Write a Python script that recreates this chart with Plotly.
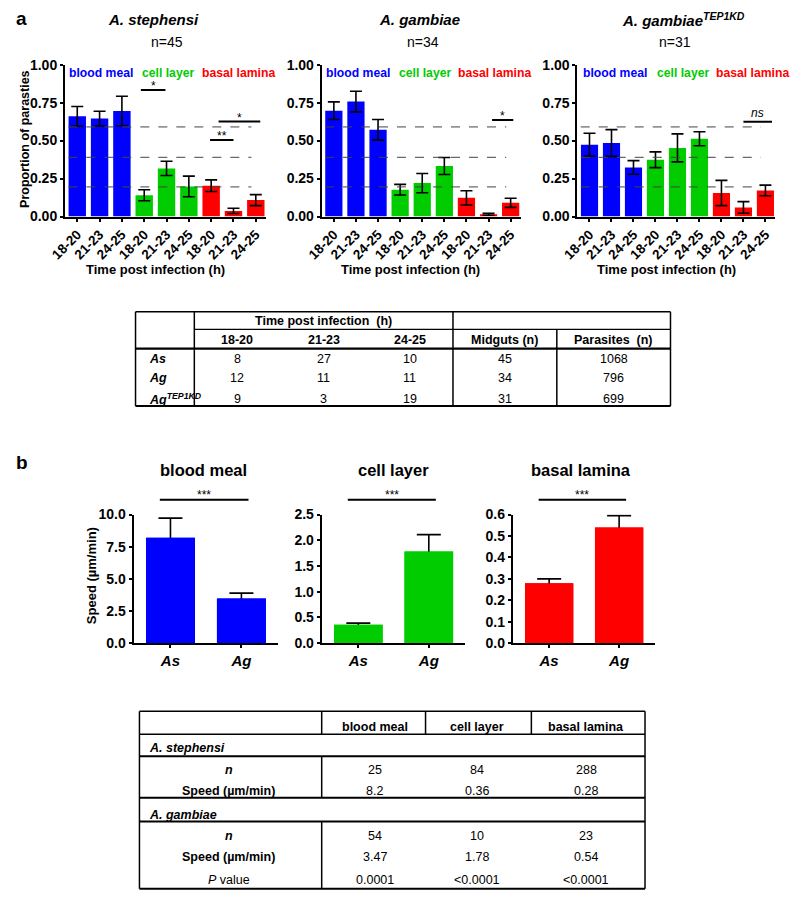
import plotly.graph_objects as go

W, H = 791, 899
FONT = "Liberation Sans, Arial, sans-serif"


def X(px):
    return px / W


def Y(py):
    return 1 - py / H


# ---------------- data ----------------
time_labels = ["18-20", "21-23", "24-25"]
stage_names = ["blood meal", "cell layer", "basal lamina"]
stage_colors = ["#0000FF", "#00CC00", "#FF0000"]

# panel a : proportion of parasites (blood meal x3, cell layer x3, basal lamina x3)
steph_prop = [0.66, 0.645, 0.695, 0.14, 0.317, 0.198, 0.203, 0.037, 0.108]
steph_err = [0.065, 0.048, 0.097, 0.036, 0.047, 0.068, 0.038, 0.017, 0.036]
gamb_prop = [0.697, 0.757, 0.571, 0.177, 0.22, 0.333, 0.123, 0.015, 0.09]
gamb_err = [0.058, 0.068, 0.068, 0.035, 0.063, 0.056, 0.047, 0.007, 0.03]
tep_prop = [0.473, 0.484, 0.323, 0.374, 0.452, 0.512, 0.155, 0.06, 0.172]
tep_err = [0.075, 0.088, 0.045, 0.052, 0.092, 0.046, 0.083, 0.038, 0.035]
ref_levels = [0.59, 0.39, 0.195]
species_titles = ["<i>A. stephensi</i>", "<i>A. gambiae</i>", "<i>A. gambiae<sup>TEP1KD</sup></i>"]
species_n = [45, 34, 31]
# significance brackets: (from bar, to bar, height, label)
steph_sig = [(2.85, 3.95, 0.834, "*"), (5.95, 7.0, 0.504, "**"), (6.33, 8.2, 0.625, "*")]
gamb_sig = [(7.16, 8.12, 0.636, "*")]
tep_sig = [(7.0, 8.3, 0.624, "<i>ns</i>")]

# panel b : speed (um/min)
species_short = ["As", "Ag"]
speed_as = [8.2, 0.36, 0.28]
speed_as_err = [1.52, 0.03, 0.02]
speed_ag = [3.47, 1.78, 0.54]
speed_ag_err = [0.42, 0.33, 0.055]
speed_ranges = [10, 2.5, 0.6]
speed_dticks = [2.5, 0.5, 0.1]
speed_sig = ["***", "***", "***"]

# table a
tab_a_rows = ["As", "Ag", "Ag<sup>TEP1KD</sup>"]
tab_a_counts = [[8, 27, 10], [12, 11, 11], [9, 3, 19]]
tab_a_midguts = [45, 34, 31]
tab_a_parasites = [1068, 796, 699]

# table b
tab_b_as_n = [25, 84, 288]
tab_b_as_speed = ["8.2", "0.36", "0.28"]
tab_b_ag_n = [54, 10, 23]
tab_b_ag_speed = ["3.47", "1.78", "0.54"]
tab_b_p = ["0.0001", "<0.0001", "<0.0001"]

fig = go.Figure()
annotations = []
shapes = []


def ann(text, px, py, size=13, bold=False, color="black", xanchor="center", yanchor="middle", angle=0):
    annotations.append(dict(
        text=text, x=X(px), y=Y(py), xref="paper", yref="paper", showarrow=False,
        xanchor=xanchor, yanchor=yanchor, textangle=angle,
        font=dict(family=FONT, size=size, color=color, weight="bold" if bold else "normal")))


def line(x0, y0, x1, y1, w=1.0, xref="paper", yref="paper", dash="solid", color="black"):
    shapes.append(dict(type="line", x0=x0, y0=y0, x1=x1, y1=y1, xref=xref, yref=yref,
                       line=dict(color=color, width=w, dash=dash)))


def hl(px0, px1, py, w=1.0):
    line(X(px0), Y(py), X(px1), Y(py), w)


def vl(px, py0, py1, w=1.0):
    line(X(px), Y(py0), X(px), Y(py1), w)


axis_common = dict(showline=True, linewidth=2, linecolor="black", ticks="outside", ticklen=3,
                   tickwidth=2, tickcolor="black", showgrid=False, zeroline=False,
                   tickfont=dict(family=FONT, size=14, color="black", weight="bold"))
layout_axes = {}

# ---------------- panel a ----------------
a_xdom = [(50, 255), (312, 515), (573, 775)]
a_ytop, a_ybot = 57.7, 212.3
a_data = [(steph_prop, steph_err, steph_sig), (gamb_prop, gamb_err, gamb_sig), (tep_prop, tep_err, tep_sig)]
bar_colors_a = [c for c in stage_colors for _ in time_labels]
xcats = list(range(len(bar_colors_a)))
a_title_x = [140, 412, 681]
a_n_x = [154, 415, 673]
a_xt_x = [142, 403, 664]
a_label_x = [(52, 127, 188), (314, 389, 449), (577, 652, 712)]

for i, (vals, errs, sig) in enumerate(a_data):
    k = i + 1
    xa = "x" if k == 1 else f"x{k}"
    ya = "y" if k == 1 else f"y{k}"
    fig.add_trace(go.Bar(
        x=xcats, y=vals, width=0.78, marker=dict(color=bar_colors_a, line=dict(width=0)),
        error_y=dict(type="data", array=errs, symmetric=True, color="black", thickness=1.6, width=6),
        xaxis=xa, yaxis=ya, showlegend=False))
    layout_axes["xaxis" if k == 1 else f"xaxis{k}"] = dict(
        axis_common, domain=[X(a_xdom[i][0]), X(a_xdom[i][1])], range=[-0.55, 8.45],
        tickvals=xcats, ticktext=time_labels * 3, tickangle=-45, anchor=ya,
        tickfont=dict(family=FONT, size=13.5, color="black", weight="bold"))
    layout_axes["yaxis" if k == 1 else f"yaxis{k}"] = dict(
        axis_common, domain=[Y(a_ybot), Y(a_ytop)], range=[0, 1], tickvals=[0, 0.25, 0.5, 0.75, 1.0],
        tickformat=".2f", anchor=xa)
    for lv in ref_levels:
        line(-0.4, lv, 7.8, lv, w=1, xref=xa, yref=ya, dash="dash", color="#444444")
    for (s0, s1, sy, lab) in sig:
        line(s0, sy, s1, sy, w=2, xref=xa, yref=ya)
        annotations.append(dict(text=lab, x=(s0 + s1) / 2, y=sy, xref=xa, yref=ya, showarrow=False,
                                yanchor="middle", yshift=4 if "ns" not in lab else 9,
                                font=dict(family=FONT, size=12, color="black")))
    ann(species_titles[i], a_title_x[i], 12, size=15, bold=True)
    ann(f"n={species_n[i]}", a_n_x[i], 35, size=14)
    ann("Time post infection (h)", a_xt_x[i], 266, size=13, bold=True)
    for j in range(3):
        ann(stage_names[j], a_label_x[i][j], 66, size=12.2, bold=True, color=stage_colors[j], xanchor="left")

ann("Proportion of parasties", 9, 133.5, size=12.5, bold=True, angle=-90)
ann("a", 6, 11, size=19, bold=True)

# ---------------- table a ----------------
La, c1a, c2a, c3a, Ra = 122, 182, 446, 552, 668
t_top, t_h1, t_h2, t_bot = 309.3, 327.3, 346.7, 405.3
hl(La, Ra, t_top, 1.5)
hl(c1a, Ra, t_h1, 1.2)
hl(La, Ra, t_h2, 2.2)
hl(La, Ra, t_bot, 2.0)
vl(La, t_top, t_bot, 1.5)
vl(c1a, t_top, t_bot, 1.5)
vl(c2a, t_top, t_bot, 1.5)
vl(c3a, t_h1, t_bot, 1.5)
vl(Ra, t_top, t_bot, 1.5)
time_cx = [226, 314, 402]
ann("Time post infection  (h)", 314, 318.5, size=12.5, bold=True)
for j, tl in enumerate(time_labels):
    ann(tl, time_cx[j], 338.5, size=12.5, bold=True)
ann("Midguts (n)", 499, 338.5, size=12.5, bold=True)
ann("Parasites  (n)", 610, 338.5, size=12.5, bold=True)
row_y_a = [357.3, 376.5, 398.0]
for r, lab in enumerate(tab_a_rows):
    ann(f"<i>{lab}</i>", 134, row_y_a[r], size=12.5, bold=True, xanchor="left")
    for j in range(3):
        ann(str(tab_a_counts[r][j]), time_cx[j], row_y_a[r], size=12.5)
    ann(str(tab_a_midguts[r]), 499, row_y_a[r], size=12.5)
    ann(str(tab_a_parasites[r]), 610, row_y_a[r], size=12.5)

# ---------------- panel b ----------------
b_xdom = [(120, 267), (312, 458), (507, 652)]
b_ytop, b_ybot = 515.7, 646.7
b_title_x = [191, 385, 577]
for j in range(3):
    k = j + 4
    xa, ya = f"x{k}", f"y{k}"
    fig.add_trace(go.Bar(
        x=[0, 1], y=[speed_as[j], speed_ag[j]], width=0.69,
        marker=dict(color=stage_colors[j], line=dict(width=0)),
        error_y=dict(type="data", array=[speed_as_err[j], speed_ag_err[j]], symmetric=True,
                     color="black", thickness=1.6, width=12),
        xaxis=xa, yaxis=ya, showlegend=False))
    fig.add_trace(go.Bar(
        x=[0, 1], y=[speed_as[j], speed_ag[j]], width=0.69,
        marker=dict(color=stage_colors[j], line=dict(width=0)),
        xaxis=xa, yaxis=ya, showlegend=False, hoverinfo="skip"))
    layout_axes[f"xaxis{k}"] = dict(
        axis_common, domain=[X(b_xdom[j][0]), X(b_xdom[j][1])], range=[-0.52, 1.51],
        tickvals=[0, 1], ticktext=[f"<i>{s}</i>" for s in species_short], anchor=ya,
        tickfont=dict(family=FONT, size=15, color="black", weight="bold"))
    nt = int(round(speed_ranges[j] / speed_dticks[j]))
    layout_axes[f"yaxis{k}"] = dict(
        axis_common, domain=[Y(b_ybot), Y(b_ytop)], range=[0, speed_ranges[j]],
        tickvals=[speed_dticks[j] * t for t in range(nt + 1)], tickformat=".1f", anchor=xa)
    line(-0.15, Y(500.7), 1.1, Y(500.7), w=2, xref=xa, yref="paper")
    annotations.append(dict(text=speed_sig[j], x=0.475, y=Y(500.7), xref=xa, yref="paper",
                            showarrow=False, yanchor="middle", yshift=5,
                            font=dict(family=FONT, size=12, color="black")))
    ann(stage_names[j], b_title_x[j], 470, size=16.5, bold=True)

ann("Speed (µm/min)", 77, 578, size=13, bold=True, angle=-90)
ann("b", 6, 463, size=19, bold=True)

# ---------------- table b ----------------
Lb, c1b, c2b, c3b, Rb = 126, 312, 418, 526, 642
tb_top, tb_h, tb_s1, tb_m, tb_s2, tb_bot = 716, 739.5, 761.7, 804, 828.3, 896.7
hl(Lb, Rb, tb_top, 1.5)
hl(Lb, Rb, tb_h, 1.5)
hl(Lb, Rb, tb_s1, 2.0)
hl(Lb, Rb, tb_m, 2.0)
hl(Lb, Rb, tb_s2, 2.0)
hl(Lb, Rb, tb_bot, 2.0)
vl(Lb, tb_top, tb_bot, 1.5)
vl(Rb, tb_top, tb_bot, 1.5)
vl(c1b, tb_top, tb_h, 1.5)
vl(c2b, tb_top, tb_h, 1.5)
vl(c3b, tb_top, tb_h, 1.5)
vl(c1b, tb_s1, tb_m, 1.5)
vl(c1b, tb_s2, tb_bot, 1.5)
col_b = [366, 471, 582]
lab_x = 217
for j in range(3):
    ann(stage_names[j], col_b[j], 732, size=12.5, bold=True)
ann("<i>A. stephensi</i>", 134, 753.5, size=12.5, bold=True, xanchor="left")
ann("<i>n</i>", lab_x, 775.5, size=12.5, bold=True)
ann("Speed (µm/min)", lab_x, 797, size=12.5, bold=True)
ann("<i>A. gambiae</i>", 134, 821.7, size=12.5, bold=True, xanchor="left")
ann("<i>n</i>", lab_x, 843.3, size=12.5, bold=True)
ann("Speed (µm/min)", lab_x, 864.3, size=12.5, bold=True)
ann("<i>P</i> value", lab_x, 888.3, size=12.5)
for j in range(3):
    ann(str(tab_b_as_n[j]), col_b[j], 775.5, size=12.5)
    ann(tab_b_as_speed[j], col_b[j], 797, size=12.5)
    ann(str(tab_b_ag_n[j]), col_b[j], 843.3, size=12.5)
    ann(tab_b_ag_speed[j], col_b[j], 864.3, size=12.5)
    ann(tab_b_p[j], col_b[j], 888.3, size=12.5)

fig.update_layout(
    width=W, height=H, autosize=False, margin=dict(l=0, r=0, t=0, b=0),
    paper_bgcolor="white", plot_bgcolor="white", barmode="overlay",
    font=dict(family=FONT, color="black"),
    annotations=annotations, shapes=shapes, showlegend=False,
    **layout_axes)

fig.write_html("out.html", config={"displayModeBar": False},
               post_script="document.body.style.margin='0';document.body.style.overflow='hidden';")
